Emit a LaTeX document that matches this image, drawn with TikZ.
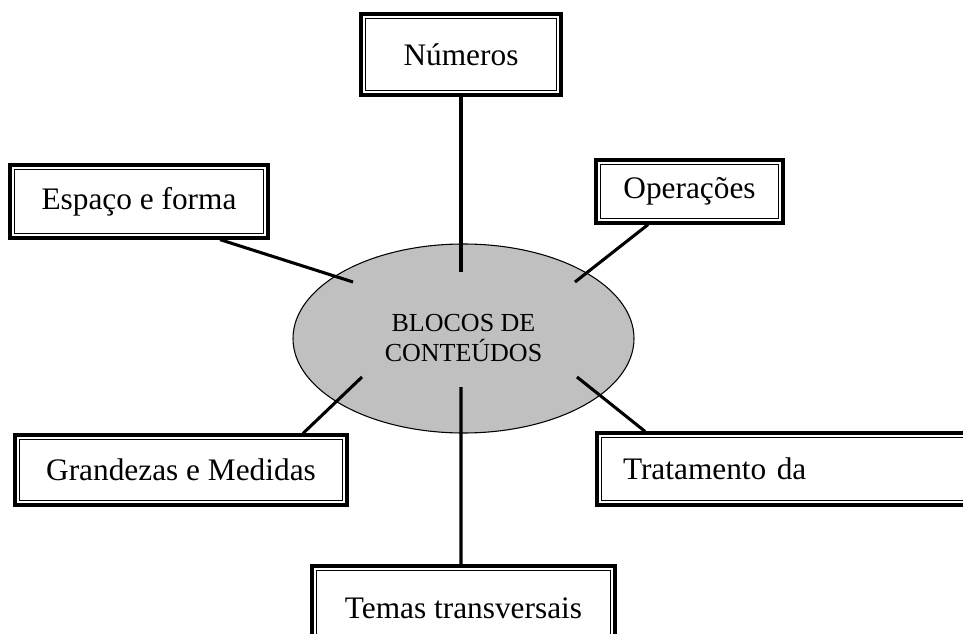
\documentclass[tikz,border=0pt]{standalone}
\usepackage{fontspec}
\setmainfont{Liberation Serif}
\usetikzlibrary{shapes.geometric}

\begin{document}
\begin{tikzpicture}[x=0.75pt, y=-0.75pt,
    caixa/.style={draw, line width=2.4pt, font=\fontsize{23.5}{27}\selectfont},
    liga/.style={line width=2.3pt}]
  \useasboundingbox (0,0) rectangle (963,634);
  % centro
  \node[ellipse, draw, line width=0.8pt, fill={rgb,255:red,192;green,192;blue,192},
        minimum width=255.75pt, minimum height=141.75pt, align=center,
        font=\fontsize{19.5}{22.5}\selectfont] (blocos) at (463.5,338.5)
        {BLOCOS DE\\CONTEÚDOS};
  % caixas
  \node[caixa, minimum width=150pt, minimum height=60.75pt] (num) at (461,54.5) {Números};
  \node[caixa, minimum width=193.5pt, minimum height=54.75pt] (esp) at (139,201.5) {Espaço e forma};
  \node[caixa, minimum width=140.25pt, minimum height=47.25pt] (ope) at (689.5,191.5) {Operações};
  \node[caixa, minimum width=249pt, minimum height=52.5pt] (gra) at (181,470) {Grandezas e Medidas};
  \node[caixa, minimum width=281.25pt, minimum height=54pt, inner xsep=19.5pt,
        text width=242.25pt, align=left] (tra) at (784.5,469) {Tratamento da};
  \node[caixa, minimum width=227.25pt, minimum height=63pt] (tem) at (463.5,608) {Temas transversais};
  \foreach \n in {num,esp,ope,gra,tra,tem}
    \draw[line width=1pt] ([shift={(4.5pt,4.5pt)}]\n.south west)
      rectangle ([shift={(-4.5pt,-4.5pt)}]\n.north east);
  % pontas dentro da elipse
  \coordinate (numIn) at (461,272);
  \coordinate (espIn) at (353,282);
  \coordinate (opeIn) at (575,282);
  \coordinate (graIn) at (362,377);
  \coordinate (traIn) at (577,377);
  \coordinate (temIn) at (461,387);
  \draw[liga] (num.south) -- (numIn);
  \draw[liga] ([xshift=60.75pt]esp.south) -- (espIn);
  \draw[liga] ([xshift=-31.1pt]ope.south) -- (opeIn);
  \draw[liga] ([xshift=91.5pt]gra.north) -- (graIn);
  \draw[liga] ([xshift=-104.6pt]tra.north) -- (traIn);
  \draw[liga] ([xshift=-1.9pt]tem.north) -- (temIn);
\end{tikzpicture}
\end{document}
